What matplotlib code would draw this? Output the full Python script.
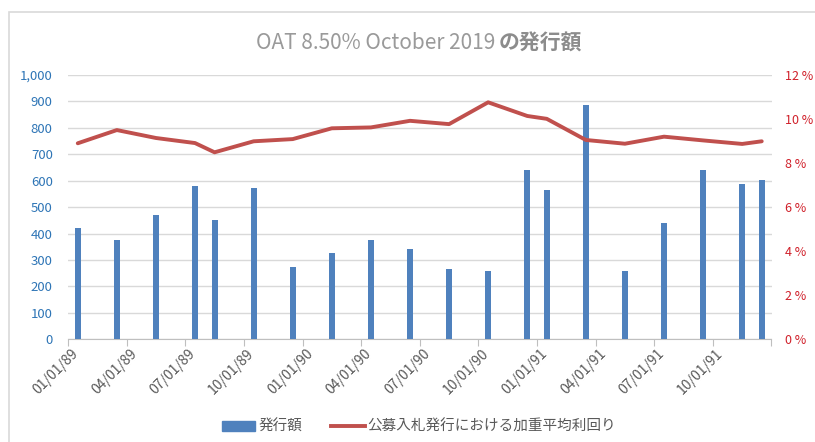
import matplotlib.pyplot as plt
from matplotlib.patches import Patch, Rectangle
from matplotlib.lines import Line2D
from matplotlib.ticker import FixedLocator, FuncFormatter
from matplotlib.transforms import ScaledTranslation
import pandas as pd

plt.rcParams['font.family'] = ['Noto Sans CJK JP', 'DejaVu Sans']

# -------------------------------------------------
fechas = ["1989-01-01", "1989-03-01", "1989-05-01", "1989-07-01", "1989-08-01",
          "1989-10-01", "1989-12-01", "1990-02-01", "1990-04-01", "1990-06-01",
          "1990-08-01", "1990-10-01", "1990-12-01", "1991-01-01", "1991-03-01",
          "1991-05-01", "1991-07-01", "1991-09-01", "1991-11-01", "1991-12-01"]
emision = [421, 375, 470, 579, 450, 572, 273, 326, 377, 340,
           265, 258, 640, 563, 887, 257, 441, 639, 588, 602]
rendimiento = [8.90, 9.50, 9.14, 8.91, 8.49, 8.99, 9.09, 9.58, 9.62, 9.92,
               9.77, 10.76, 10.14, 10.01, 9.05, 8.88, 9.20, 9.03, 8.87, 8.99]
etiquetas_x = ["01/01/89", "04/01/89", "07/01/89", "10/01/89", "01/01/90", "04/01/90",
               "07/01/90", "10/01/90", "01/01/91", "04/01/91", "07/01/91", "10/01/91"]

titulo_a = "OAT 8.50% October 2019"
titulo_b = "の発行額"
nombre_barras = "発行額"
nombre_linea = "公募入札発行における加重平均利回り"

# mes desde 01/1989, centrado en el mes (eje de fechas tipo Excel)
d = pd.to_datetime(fechas)
x = [(f.year - 1989) * 12 + f.month - 1 + 0.5 for f in d]

azul = "#4F81BD"
rojo = "#C0504D"

fig = plt.figure(figsize=(8.15, 4.42), dpi=100)
fig.patches.append(Rectangle((8.5 / 815, -0.1), 1.2, 1 - 11.5 / 442 + 0.1,
                             transform=fig.transFigure, fill=False,
                             edgecolor="#D9D9D9", linewidth=1.2))

ax = fig.add_axes([68 / 815, 1 - 339.3 / 442, (771.5 - 68) / 815, (339.3 - 75) / 442])
ax.bar(x, emision, width=0.31, color=azul, zorder=3)
ax.set_xlim(0, 36)
ax.set_ylim(0, 1000)
ax.set_yticks(range(0, 1001, 100))
ax.yaxis.set_major_formatter(FuncFormatter(lambda v, p: f"{int(v):,}"))
ax.grid(axis="y", color="#D9D9D9", linewidth=1, zorder=0)
ax.set_axisbelow(True)
for s in ["top", "right", "left"]:
    ax.spines[s].set_visible(False)
ax.spines["bottom"].set_color("#BFBFBF")
ax.tick_params(axis="y", length=0, labelsize=9.5, labelcolor="#2E75B6", pad=11)
ax.xaxis.set_major_locator(FixedLocator(range(0, 37, 3)))
ax.set_xticklabels(etiquetas_x + [""])
ax.tick_params(axis="x", length=5, color="#BFBFBF", labelsize=10, labelcolor="#595959", pad=4)
desplaza = ScaledTranslation(8 / 100, 0, fig.dpi_scale_trans)
for t in ax.get_xticklabels():
    t.set_rotation(45)
    t.set_ha("right")
    t.set_va("center")
    t.set_rotation_mode("anchor")
    t.set_transform(t.get_transform() + desplaza)

ax2 = ax.twinx()
ax2.plot(x, rendimiento, color=rojo, linewidth=2.8, solid_capstyle="round", zorder=4)
ax2.set_ylim(0, 12)
ax2.set_yticks(range(0, 13, 2))
ax2.yaxis.set_major_formatter(FuncFormatter(lambda v, p: f"{int(v)} %"))
for s in ["top", "right", "left", "bottom"]:
    ax2.spines[s].set_visible(False)
ax2.tick_params(axis="y", length=0, labelsize=9, labelcolor="#D0202A", pad=10)

fig.text(495 / 815, 1 - 43 / 442, titulo_a, ha="right", va="center", fontsize=15, color="#9A9A9A")
fig.text(499 / 815, 1 - 43 / 442, titulo_b, ha="left", va="center", fontsize=15,
         color="#8C8C8C", fontweight="bold")

handles = [Patch(facecolor=azul, edgecolor=azul),
           Line2D([0], [0], color=rojo, linewidth=2.8)]
fig.legend(handles, [nombre_barras, nombre_linea], loc="center",
           bbox_to_anchor=(419 / 815, 1 - 427 / 442), ncol=2, frameon=False,
           fontsize=10.5, labelcolor="#595959", handlelength=2.3, handleheight=0.6,
           handletextpad=0.2, columnspacing=2.0)

plt.savefig("out.png", dpi=100)
